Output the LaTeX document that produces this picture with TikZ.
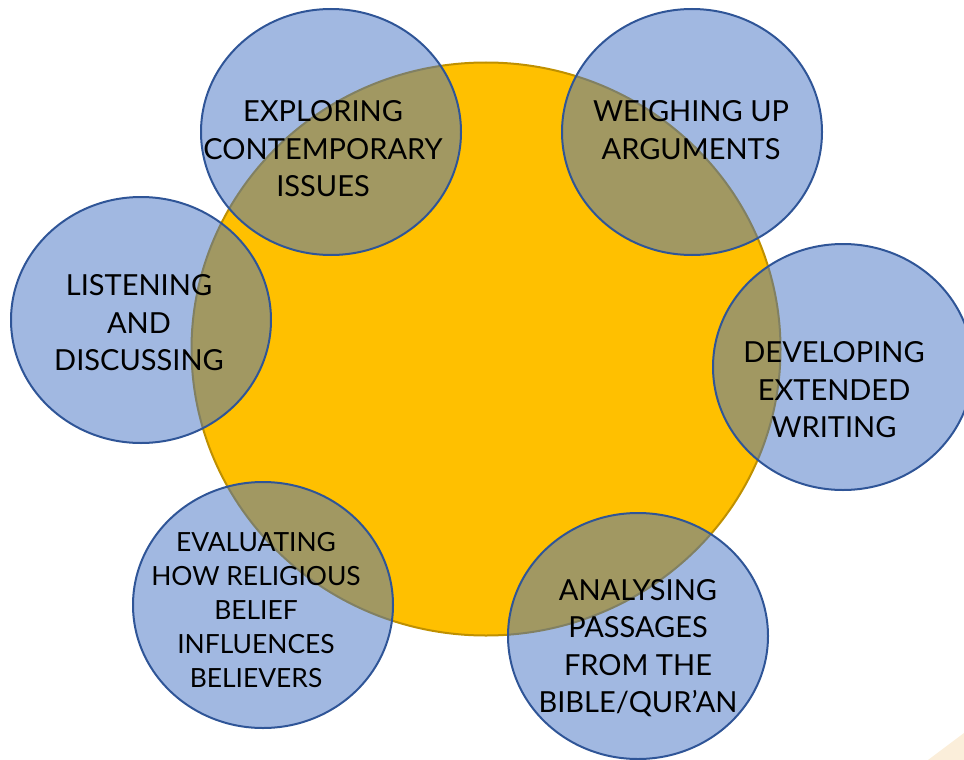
\documentclass[tikz,border=0pt]{standalone}
\usepackage{fontspec}
\setmainfont{Lato}
\usetikzlibrary{shapes.geometric}
\definecolor{sun}{RGB}{255,192,0}
\definecolor{sunrim}{RGB}{191,144,0}
\definecolor{bub}{RGB}{68,114,196}
\definecolor{bubrim}{RGB}{47,85,151}
\definecolor{sand}{RGB}{251,238,218}

\tikzset{
  x=1pt,y=-1pt,
  hub/.style={ellipse,draw=sunrim,line width=2pt,fill=sun,minimum width=589pt,minimum height=573pt,inner sep=0pt},
  bubble/.style={ellipse,draw=bubrim,line width=2pt,fill=bub,fill opacity=0.5,minimum width=260pt,minimum height=246pt,inner sep=0pt},
  bubbletext/.style={align=center,text=black,font=\fontsize{29}{37.5}\selectfont},
  smalltext/.style={bubbletext,font=\fontsize{26.4}{33.8}\selectfont}
}

\begin{document}
\begin{tikzpicture}
        \clip (0,0) rectangle (964,760);
        \fill[sand] (928,760) -- (964,733) -- (964,760) -- cycle;

        \node[hub] (sun) at (486,349) {};

        \node[bubble] (explore) at (331,132) {};
        \node[bubble] (weigh) at (692,132) {};
        \node[bubble] (listen) at (141,320) {};
        \node[bubble] (develop) at (843,367) {};
        \node[bubble] (evaluate) at (263,605) {};
        \node[bubble] (analyse) at (638,636) {};

        \node[bubbletext] (exploretxt) at (323,149) {EXPLORING\\CONTEMPORARY\\ISSUES};
        \node[bubbletext] (weightxt) at (691,130) {WEIGHING UP\\ARGUMENTS};
        \node[bubbletext] (listentxt) at (139,323) {LISTENING\\AND\\DISCUSSING};
        \node[bubbletext] (developtxt) at (834,390) {DEVELOPING\\EXTENDED\\WRITING};
        \node[smalltext] (evaluatetxt) at (256,610) {EVALUATING\\HOW RELIGIOUS\\BELIEF\\INFLUENCES\\BELIEVERS};
        \node[bubbletext] (analysetxt) at (638,648) {ANALYSING\\PASSAGES\\FROM THE\\BIBLE/QUR’AN};
      \end{tikzpicture}
\end{document}
